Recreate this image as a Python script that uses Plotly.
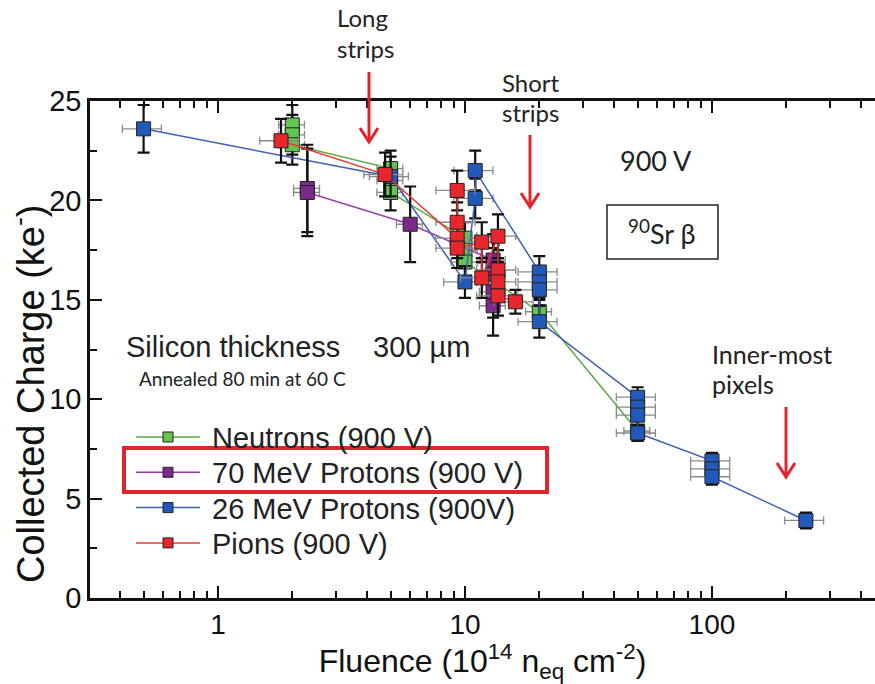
import plotly.graph_objects as go

# ---------------- data ----------------
neut_x = [2, 2, 2, 5, 5, 5, 10, 10, 10, 20, 50]
neut_y = [23.8, 23.3, 22.8, 21.6, 21.0, 20.4, 18.1, 17.5, 16.9, 14.4, 8.4]
neut_ey = [1.0, 1.0, 1.0, 0.9, 0.9, 0.9, 0.8, 0.8, 0.8, 0.6, 0.5]

p70_x = [2.3, 2.3, 6, 13, 13, 13, 13]
p70_y = [20.6, 20.4, 18.8, 17.0, 16.3, 15.4, 14.7]
p70_ey = [2.2, 2.2, 1.9, 1.3, 1.3, 1.3, 1.5]

p26_x = [0.5, 5, 10, 11, 11, 20, 20, 20, 20, 50, 50, 50, 50, 100, 100, 100, 240]
p26_y = [23.6, 21.2, 15.9, 20.1, 21.5, 16.4, 15.9, 15.5, 13.9, 10.1, 9.6, 9.2, 8.3, 6.9, 6.5, 6.1, 3.9]
p26_ey = [1.2, 1.0, 0.8, 1.0, 1.0, 0.8, 0.8, 0.8, 0.8, 0.5, 0.5, 0.5, 0.4, 0.4, 0.4, 0.4, 0.4]

pion_x = [1.8, 4.75, 9.3, 9.3, 9.3, 9.3, 11.7, 11.7, 13.6, 13.6, 13.6, 13.6, 16]
pion_y = [23.0, 21.3, 18.1, 20.5, 18.9, 17.6, 17.9, 16.1, 18.2, 16.5, 15.9, 15.2, 14.9]
pion_ey = [1.1, 1.1, 1.0, 1.0, 1.0, 1.0, 1.0, 1.0, 1.1, 1.0, 1.0, 1.0, 0.6]

names = ["Neutrons (900 V)", "70 MeV Protons (900 V)", "26 MeV Protons (900V)", "Pions (900 V)"]
x_tick_vals = [1, 10, 100]
x_tick_text = ["1", "10", "100"]
y_tick_vals = [0, 5, 10, 15, 20, 25]

# ---------------- styles ----------------
FONT = "Liberation Sans, Arial, sans-serif"
SOFT = "Lato, Open Sans, sans-serif"
W, H = 875, 684
L, T, B = 90, 101, 86
PW, PH = W - L, H - T - B
RED = "#e3232b"

def px(xp):
    return (xp - L) / PW

def py(yp):
    return (H - B - yp) / PH

# name -> (marker colour, line colour, x-error percent)
style = {
    names[0]: ("#63c451", "#5aa845", 12),
    names[1]: ("#7b2a8c", "#953da6", 12),
    names[2]: ("#2359b8", "#4061b3", 18),
    names[3]: ("#e8262d", "#e83a33", 18),
}
draw_order = [
    (neut_x, neut_y, neut_ey, names[0]),
    (p26_x, p26_y, p26_ey, names[2]),
    (p70_x, p70_y, p70_ey, names[1]),
    (pion_x, pion_y, pion_ey, names[3]),
]

fig = go.Figure()
for xs, ys, ey, nm in draw_order:
    mc, lc, xpct = style[nm]
    fig.add_trace(go.Scatter(
        x=xs, y=ys, mode="lines+markers", name=nm, showlegend=False,
        line=dict(color=lc, width=1.5),
        marker=dict(symbol="square", size=14, color=mc, line=dict(color="#222", width=1)),
        error_y=dict(type="data", array=ey, visible=True, color="#111", thickness=2.2, width=6),
        error_x=dict(type="percent", value=xpct, visible=True, color="#8a8a8a", thickness=1.3, width=4),
    ))

minor_x = [0.4, 0.5, 0.6, 0.7, 0.8, 0.9, 2, 3, 4, 5, 6, 7, 8, 9,
           20, 30, 40, 50, 60, 70, 80, 90, 200, 300, 400]

fig.update_layout(
    width=W, height=H,
    margin=dict(l=L, r=0, t=T, b=B),
    paper_bgcolor="white", plot_bgcolor="white",
    font=dict(family=FONT, color="#111"),
    showlegend=False,
    xaxis=dict(type="log", range=[-0.518, 2.66], showgrid=False, zeroline=False,
               showline=True, linecolor="#111", linewidth=2.5, mirror="ticks",
               ticks="inside", ticklen=12, tickwidth=2, tickcolor="#111",
               tickvals=x_tick_vals, ticktext=x_tick_text,
               tickfont=dict(size=28, family=FONT),
               minor=dict(ticks="inside", ticklen=7, tickwidth=1.5, tickcolor="#111",
                          tickvals=minor_x, showgrid=False),
               title=dict(text="Fluence (10<sup>14</sup> n<sub>eq</sub> cm<sup>-2</sup>)",
                          font=dict(size=32, family=FONT), standoff=0)),
    yaxis=dict(range=[0, 25], showgrid=False, zeroline=False,
               showline=True, linecolor="#111", linewidth=2.5, mirror=False,
               ticks="inside", ticklen=12, tickwidth=2, tickcolor="#111",
               tickvals=y_tick_vals, tickfont=dict(size=29, family=FONT),
               minor=dict(ticks="inside", ticklen=7, tickwidth=1.5, tickcolor="#111",
                          dtick=2.5, showgrid=False)),
)

shapes = []
ann = []

def text(xp, yp, s, size, family=SOFT, xanchor="left"):
    ann.append(dict(xref="paper", yref="paper", x=px(xp), y=py(yp), text=s,
                    showarrow=False, xanchor=xanchor, yanchor="middle",
                    font=dict(size=size, family=family, color="#222")))

def arrow(xp, y_top, y_bot):
    shapes.append(dict(type="line", xref="paper", yref="paper",
                       x0=px(xp), x1=px(xp), y0=py(y_top), y1=py(y_bot - 2),
                       line=dict(color=RED, width=3)))
    path = (f"M {px(xp - 9)},{py(y_bot - 14)} L {px(xp)},{py(y_bot)} "
            f"L {px(xp + 9)},{py(y_bot - 14)}")
    shapes.append(dict(type="path", xref="paper", yref="paper", path=path,
                       line=dict(color=RED, width=3)))

# manual legend
for i, nm in enumerate(names):
    mc, lc, _ = style[nm]
    yc = 437 + 35.3 * i
    shapes.append(dict(type="line", xref="paper", yref="paper",
                       x0=px(136), x1=px(200), y0=py(yc), y1=py(yc),
                       line=dict(color=lc, width=1.5)))
    shapes.append(dict(type="rect", xref="paper", yref="paper",
                       x0=px(163), x1=px(173), y0=py(yc + 5), y1=py(yc - 5),
                       fillcolor=mc, line=dict(color="#222", width=1)))
    text(210, yc + 1, nm, 29, family=FONT)

# highlight box around second legend entry
shapes.append(dict(type="rect", xref="paper", yref="paper",
                   x0=px(124), x1=px(547), y0=py(492), y1=py(448),
                   line=dict(color=RED, width=4)))

# source box
shapes.append(dict(type="rect", xref="paper", yref="paper",
                   x0=px(607), x1=px(718), y0=py(259), y1=py(205),
                   line=dict(color="#222", width=1.5)))

text(335, 18, "Long", 24)
text(335, 48, "strips", 24)
text(500, 82, "Short", 24)
text(500, 112, "strips", 24)
text(710, 354, "Inner-most", 25)
text(710, 384, "pixels", 25)
arrow(369, 72, 142)
arrow(530, 135, 207)
arrow(786, 407, 477)
text(656, 160, "900 V", 27, xanchor="center")
text(662, 232, "<sup>90</sup>Sr β", 27, xanchor="center")
text(124, 347, "Silicon thickness", 29, family=FONT)
text(371, 347, "300 µm", 29, family=FONT)
text(137, 378, "Annealed 80 min at 60 C", 19)

# y-axis title
ann.append(dict(xref="paper", yref="paper", x=px(28), y=py(394),
                text="Collected Charge (ke<sup>-</sup>)", textangle=-90,
                showarrow=False, xanchor="center", yanchor="middle",
                font=dict(size=38, family=FONT, color="#111")))

fig.update_layout(annotations=ann, shapes=shapes)
fig.write_html("out.html")
